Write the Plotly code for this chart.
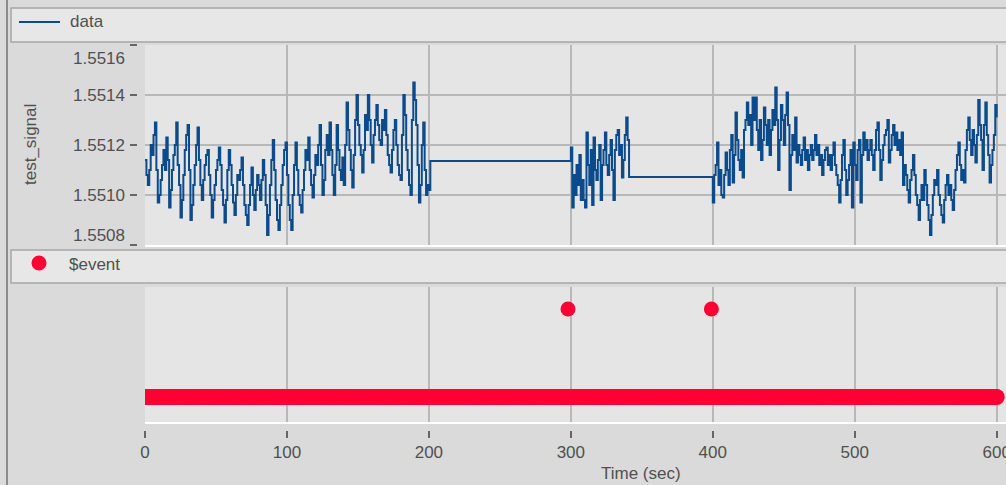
import plotly.graph_objects as go

W, H = 1006, 485

# ---- data -----------------------------------------------------------------
# test_signal values, stored as hundred-thousandths above 1.55000
sig_a_start = 0
sig_a = [114, 108, 104, 110, 120, 116, 124, 129, 110, 97,
         100, 106, 112, 118, 110, 123, 114, 95, 102, 110,
         116, 120, 129, 112, 104, 91, 98, 108, 118, 124,
         128, 110, 90, 96, 104, 112, 120, 127, 114, 104,
         98, 106, 112, 116, 118, 108, 100, 91, 98, 104,
         110, 114, 119, 112, 102, 96, 89, 98, 110, 118,
         112, 104, 97, 92, 100, 108, 106, 110, 115, 104,
         96, 92, 88, 96, 104, 111, 100, 94, 102, 108,
         104, 98, 106, 114, 108, 96, 84, 92, 104, 114,
         122, 110, 98, 90, 86, 96, 104, 112, 118, 121,
         108, 96, 90, 86, 100, 112, 121, 110, 100, 96,
         93, 102, 110, 118, 114, 123, 110, 104, 99, 108,
         116, 112, 120, 128, 112, 100, 106, 118, 124, 116,
         129, 118, 108, 100, 112, 128, 118, 110, 106, 115,
         104, 120, 137, 126, 118, 110, 103, 116, 130, 140,
         128, 120, 116, 109, 118, 132, 126, 140, 130, 120,
         113, 124, 130, 136, 128, 122, 120, 130, 126, 134,
         124, 116, 112, 109, 118, 126, 130, 120, 112, 108,
         106, 124, 140, 132, 118, 110, 104, 100, 130, 145,
         138, 128, 112, 97, 104, 120, 129, 110, 100, 104,
         102]
hold_a_time = 201
hold_a = 113.6

sig_b_start = 300
sig_b = [119, 95, 108, 100, 112, 104, 116, 98, 106, 98,
         95, 125, 112, 104, 118, 96, 123, 110, 106, 114,
         120, 98, 112, 118, 125, 112, 108, 116, 122, 110,
         98, 118, 124, 126, 116, 120, 107, 114, 124, 131,
         122]
hold_b_time = 341
hold_b = 107.2

sig_c_start = 400
sig_c = [97, 108, 112, 121, 104, 110, 100, 99, 108, 117,
         110, 104, 118, 124, 105, 116, 133, 122, 114, 110,
         118, 107, 126, 130, 137, 128, 132, 120, 139, 130,
         139, 126, 118, 130, 114, 122, 135, 128, 120, 130,
         116, 126, 134, 128, 143, 130, 110, 122, 136, 130,
         120, 132, 141, 128, 102, 116, 124, 118, 131, 113,
         120, 116, 112, 118, 123, 114, 118, 110, 116, 120,
         114, 118, 124, 116, 120, 112, 116, 108, 114, 118,
         119, 112, 116, 110, 116, 121, 112, 108, 104, 97,
         106, 116, 122, 110, 100, 106, 112, 118, 95, 121,
         112, 106, 118, 122, 97, 116, 125, 118, 122, 114,
         118, 122, 116, 110, 118, 126, 129, 118, 106, 114,
         120, 124, 126, 130, 113, 118, 124, 128, 120, 125,
         118, 122, 116, 125, 104, 112, 108, 102, 97, 106,
         110, 116, 108, 100, 96, 90, 98, 104, 98, 110,
         104, 96, 90, 84, 92, 100, 106, 104, 110, 100,
         96, 92, 89, 98, 104, 108, 100, 104, 98, 94,
         102, 110, 116, 121, 112, 106, 110, 105, 118, 126,
         131, 122, 116, 126, 120, 113, 124, 138, 128, 122,
         110, 128, 137, 124, 116, 105, 112, 118, 124, 136,
         131]

# $event series
event_times = [298, 399]
event_values = [1, 1]
base_start, base_end = 0, 600
base_value = 0

x_ticks = [0, 100, 200, 300, 400, 500, 600]
y_ticks = [1.5508, 1.5510, 1.5512, 1.5514, 1.5516]
y_tick_text = ["1.5508", "1.5510", "1.5512", "1.5514", "1.5516"]

# ---- build ------------------------------------------------------------------
sig_t = (list(range(sig_a_start, sig_a_start + len(sig_a))) + [hold_a_time]
         + list(range(sig_b_start, sig_b_start + len(sig_b))) + [hold_b_time]
         + list(range(sig_c_start, sig_c_start + len(sig_c))))
sig_raw = sig_a + [hold_a] + sig_b + [hold_b] + sig_c
sig_v = [round(1.55 + n * 1e-5, 7) for n in sig_raw]

base_t = list(range(base_start, base_end + 1))
base_v = [base_value] * len(base_t)

BLUE = "#0b4a8b"
RED = "#ff0035"
TXT = "#505050"
FONT = "Liberation Sans, Arial, sans-serif"
GRID = "#b8b8b8"


def px(x):
    return x / W


def py(y):
    return 1 - y / H


fig = go.Figure()
fig.add_trace(go.Scatter(x=sig_t, y=sig_v, mode="lines", name="data",
                         line=dict(color=BLUE, width=2, shape="hv"),
                         xaxis="x", yaxis="y", showlegend=False))
fig.add_trace(go.Scatter(x=base_t, y=base_v, mode="markers", name="$event",
                         marker=dict(color=RED, size=16, line=dict(width=0)),
                         xaxis="x2", yaxis="y2", showlegend=False))
fig.add_trace(go.Scatter(x=event_times, y=event_values, mode="markers", name="$event",
                         marker=dict(color=RED, size=15, line=dict(width=0)),
                         xaxis="x2", yaxis="y2", showlegend=False))
# empty helpers so the detached tick axes are rendered
fig.add_trace(go.Scatter(x=[None], y=[None], xaxis="x", yaxis="y3",
                         showlegend=False, hoverinfo="skip"))
fig.add_trace(go.Scatter(x=[None], y=[None], xaxis="x3", yaxis="y2",
                         showlegend=False, hoverinfo="skip"))

x_left = px(145)
x_max = (W - 145) / ((996.7 - 145) / 600)
top_dom = [py(245), py(45)]
bot_dom = [py(422), py(287)]

fig.update_layout(
    width=W, height=H, autosize=False,
    margin=dict(l=0, r=0, t=0, b=0, pad=0, autoexpand=False),
    paper_bgcolor="#dadada", plot_bgcolor="#e5e5e5",
    font=dict(family=FONT, size=17, color=TXT),
    xaxis=dict(domain=[x_left, 1], range=[0, x_max], anchor="y",
               tickvals=x_ticks, showticklabels=False, ticks="",
               showgrid=True, gridcolor=GRID, gridwidth=2, zeroline=False,
               showline=True, linecolor="white", linewidth=2,
               automargin=False),
    yaxis=dict(domain=top_dom, range=[1.5508, 1.5516], anchor="x",
               tickvals=y_ticks[1:-1], showticklabels=False, ticks="",
               showgrid=True, gridcolor=GRID, gridwidth=2, zeroline=False,
               showline=False, automargin=False),
    yaxis3=dict(overlaying="y", range=[1.5508, 1.5516], anchor="free",
                position=px(137), side="left", tickvals=y_ticks,
                showticklabels=False, ticks="outside", ticklen=7,
                tickwidth=1.5, tickcolor="#666666", showgrid=False,
                zeroline=False, showline=False, automargin=False),
    xaxis2=dict(domain=[x_left, 1], range=[0, x_max], anchor="y2",
                tickvals=x_ticks, showticklabels=False, ticks="",
                showgrid=True, gridcolor=GRID, gridwidth=2, zeroline=False,
                showline=True, linecolor="white", linewidth=2,
                automargin=False),
    yaxis2=dict(domain=bot_dom, range=[-0.284, 1.25], anchor="x2",
                showticklabels=False, ticks="", showgrid=False,
                zeroline=False, showline=False, automargin=False),
    xaxis3=dict(overlaying="x2", range=[0, x_max], anchor="free",
                position=py(430), side="bottom", tickvals=x_ticks,
                ticktext=[str(v) for v in x_ticks],
                ticks="outside", ticklen=7, tickwidth=1.5, tickcolor="#666666",
                tickfont=dict(size=17, color=TXT, family=FONT),
                ticklabeloverflow="allow",
                showgrid=False, zeroline=False, showline=False,
                automargin=False),
)

shapes = [
    # left frame line
    dict(type="line", xref="paper", yref="paper", x0=px(7), x1=px(7),
         y0=0, y1=1, line=dict(color="#8c8c8c", width=2)),
    # legend boxes
    dict(type="rect", xref="paper", yref="paper", x0=px(11), x1=px(1012),
         y0=py(42), y1=py(8), fillcolor="#e7e7e7",
         line=dict(color="#a6a6a6", width=1.5)),
    dict(type="rect", xref="paper", yref="paper", x0=px(11), x1=px(1012),
         y0=py(283), y1=py(250), fillcolor="#e7e7e7",
         line=dict(color="#a6a6a6", width=1.5)),
    # legend symbols
    dict(type="line", xref="paper", yref="paper", x0=px(19), x1=px(60),
         y0=py(22), y1=py(22), line=dict(color=BLUE, width=2)),
    dict(type="circle", xref="paper", yref="paper", x0=px(31.5), x1=px(46.5),
         y0=py(270.5), y1=py(255.5), fillcolor=RED, line=dict(width=0)),
]

annotations = [
    dict(text="data", xref="paper", yref="paper", x=px(68), y=py(22),
         xanchor="left", yanchor="middle", showarrow=False,
         font=dict(size=17, color=TXT, family=FONT)),
    dict(text="$event", xref="paper", yref="paper", x=px(67), y=py(264),
         xanchor="left", yanchor="middle", showarrow=False,
         font=dict(size=17, color=TXT, family=FONT)),
    dict(text="test_signal", xref="paper", yref="paper", x=px(30), y=py(145),
         textangle=-90, xanchor="center", yanchor="middle", showarrow=False,
         font=dict(size=17, color=TXT, family=FONT)),
    dict(text="Time (sec)", xref="paper", yref="paper", x=px(641), y=py(473),
         xanchor="center", yanchor="middle", showarrow=False,
         font=dict(size=17, color=TXT, family=FONT)),
]
shift = {1.5516: -13, 1.5508: 10}
for v, t in zip(y_ticks, y_tick_text):
    annotations.append(dict(text=t, xref="paper", yref="y", x=px(127), y=v,
                            yshift=shift.get(v, 0), xanchor="right",
                            yanchor="middle", showarrow=False,
                            font=dict(size=17, color=TXT, family=FONT)))

fig.update_layout(shapes=shapes, annotations=annotations)
fig.write_html(
    "out.html",
    config={"displayModeBar": False},
    post_script="document.body.style.margin='0';document.body.style.padding='0';"
                "document.body.style.overflow='hidden';"
                "document.documentElement.style.overflow='hidden';",
)
